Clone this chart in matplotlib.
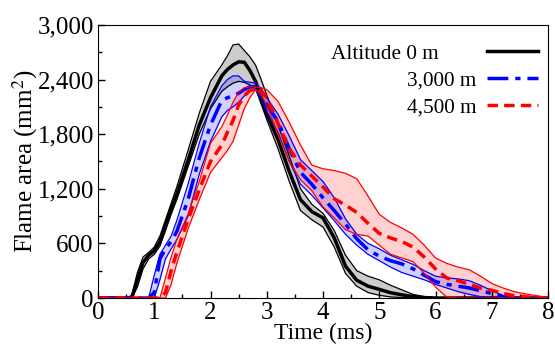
import numpy as np
import matplotlib.pyplot as plt
from matplotlib.ticker import MultipleLocator, FuncFormatter

plt.rcParams['font.family'] = ['Liberation Serif', 'DejaVu Serif']
plt.rcParams['mathtext.fontset'] = 'stix'

# time axis (ms)
time = [0, 0.5, 0.6, 0.7, 0.8, 0.9, 1.0, 1.1, 1.2, 1.3, 1.4, 1.6, 1.8, 2.0, 2.2, 2.3, 2.4, 2.5, 2.6,
        2.7, 2.8, 2.9, 3.0, 3.2, 3.4, 3.6, 3.8, 4.0, 4.2, 4.4, 4.6, 4.8, 5.0, 5.2, 5.4, 5.6, 5.8, 6.0,
        6.2, 6.4, 6.6, 6.8, 7.0, 7.2, 7.4, 7.6, 7.8, 8.0]

# altitude 0 m
alt0_mean = [0, 0, 0, 200, 390, 470, 520, 620, 800, 980, 1140, 1510, 1900, 2200, 2440, 2510, 2560, 2595, 2590,
             2500, 2380, 2200, 2020, 1740, 1390, 1080, 950, 880, 660, 350, 195, 130, 95, 58, 35, 16, 5, 0,
             0, 0, 0, 0, 0, 0, 0, 0, 0, 0]
alt0_upper = [0, 0, 30, 280, 450, 500, 560, 680, 860, 1040, 1220, 1620, 2030, 2380, 2560, 2660, 2780, 2790, 2720,
              2650, 2560, 2400, 2230, 1900, 1560, 1200, 1030, 930, 740, 470, 300, 240, 200, 140, 90, 40, 15, 3,
              0, 0, 0, 0, 0, 0, 0, 0, 0, 0]
alt0_lower = [0, 0, 0, 120, 320, 430, 480, 570, 740, 920, 1080, 1440, 1800, 2080, 2270, 2320, 2360, 2380, 2370,
              2340, 2300, 2130, 1960, 1640, 1280, 960, 860, 780, 560, 270, 130, 60, 30, 12, 5, 0, 0, 0,
              0, 0, 0, 0, 0, 0, 0, 0, 0, 0]

# altitude 3,000 m
alt3000_mean = [0, 0, 0, 0, 0, 0, 60, 430, 540, 620, 730, 1080, 1540, 1900, 2170, 2200, 2220, 2250, 2290,
                2320, 2320, 2240, 2120, 1940, 1640, 1380, 1250, 1100, 960, 810, 650, 530, 460, 410, 375, 320, 250, 180,
                150, 130, 110, 80, 50, 10, 0, 0, 0, 0]
alt3000_upper = [0, 0, 0, 0, 0, 0, 250, 480, 580, 680, 850, 1250, 1700, 2100, 2330, 2400, 2440, 2440, 2380,
                 2370, 2360, 2300, 2200, 2020, 1780, 1520, 1400, 1280, 1100, 870, 700, 600, 540, 470, 420, 370, 300, 240,
                 220, 210, 190, 140, 80, 30, 0, 0, 0, 0]
alt3000_lower = [0, 0, 0, 0, 0, 0, 0, 200, 430, 540, 640, 900, 1360, 1720, 1990, 2060, 2100, 2150, 2220,
                 2270, 2290, 2190, 2050, 1820, 1500, 1250, 1130, 990, 850, 700, 580, 480, 410, 340, 280, 240, 200, 150,
                 110, 70, 40, 15, 0, 0, 0, 0, 0, 0]

# altitude 4,500 m
alt4500_mean = [0, 0, 0, 0, 0, 0, 0, 0, 60, 300, 500, 860, 1190, 1500, 1680, 1820, 1950, 2120, 2220,
                2280, 2300, 2270, 2200, 1920, 1640, 1460, 1340, 1220, 1090, 1020, 940, 820, 710, 660, 620, 560, 450, 320,
                220, 190, 150, 110, 85, 50, 25, 12, 5, 0]
alt4500_upper = [0, 0, 0, 0, 0, 0, 0, 0, 220, 450, 640, 920, 1280, 1700, 1880, 2010, 2150, 2260, 2310,
                 2320, 2320, 2310, 2290, 2160, 1930, 1680, 1460, 1420, 1400, 1370, 1310, 1120, 920, 830, 770, 700, 580, 440,
                 380, 340, 310, 240, 160, 110, 70, 45, 25, 5]
alt4500_lower = [0, 0, 0, 0, 0, 0, 0, 0, 0, 150, 380, 760, 1080, 1380, 1540, 1620, 1720, 1900, 2080,
                 2200, 2290, 2230, 2120, 1800, 1500, 1300, 1180, 1000, 880, 750, 700, 680, 580, 480, 440, 400, 270, 120,
                 10, 0, 0, 0, 0, 0, 0, 0, 0, 0]

series = [
    ('Altitude 0 m', alt0_mean, alt0_lower, alt0_upper, 'black', '#808080', 0.4, '-'),
    ('3,000 m', alt3000_mean, alt3000_lower, alt3000_upper, 'blue', 'blue', 0.18, (0, (6, 2, 1.5, 2))),
    ('4,500 m', alt4500_mean, alt4500_lower, alt4500_upper, 'red', 'red', 0.18, (0, (3, 1.8))),
]

fig = plt.figure(figsize=(5.55, 3.47), dpi=100)
ax = fig.add_axes([0.1766, 0.1412, 0.8108, 0.787])

handles = []
for label, mean, lower, upper, color, fill, alpha, ls in series:
    ax.fill_between(time, lower, upper, color=fill, alpha=alpha, lw=0)
    ax.plot(time, lower, color=color, lw=0.9)
    ax.plot(time, upper, color=color, lw=0.9)
    h, = ax.plot(time, mean, color=color, lw=2.5, ls=ls, label=label)
    handles.append(h)

ax.set_xlim(0, 8)
ax.set_ylim(0, 3000)
ax.xaxis.set_major_locator(MultipleLocator(1))
ax.xaxis.set_minor_locator(MultipleLocator(0.5))
ax.yaxis.set_major_locator(MultipleLocator(600))
ax.yaxis.set_minor_locator(MultipleLocator(300))
ax.yaxis.set_major_formatter(FuncFormatter(lambda v, p: f'{int(v):,}'))
ax.tick_params(which='both', direction='in', labelsize=18)
ax.tick_params(axis='x', pad=3)
ax.tick_params(axis='y', pad=3)
ax.tick_params(which='major', length=5, width=1)
ax.tick_params(which='minor', length=3, width=1)

ax.set_xlabel('Time (ms)', fontsize=17, labelpad=-1)
ax.set_ylabel('Flame area (mm$^2$)', fontsize=18, labelpad=-2)

labels = ['Altitude 0 m       ', '3,000 m', '4,500 m']
ax.legend(handles, labels, loc='upper right', bbox_to_anchor=(0.978, 0.93),
          markerfirst=False, frameon=False, borderpad=0, borderaxespad=0,
          fontsize=15.3, handlelength=2.4, handletextpad=0.5, labelspacing=0.33)

fig.savefig('out.png', dpi=100)
